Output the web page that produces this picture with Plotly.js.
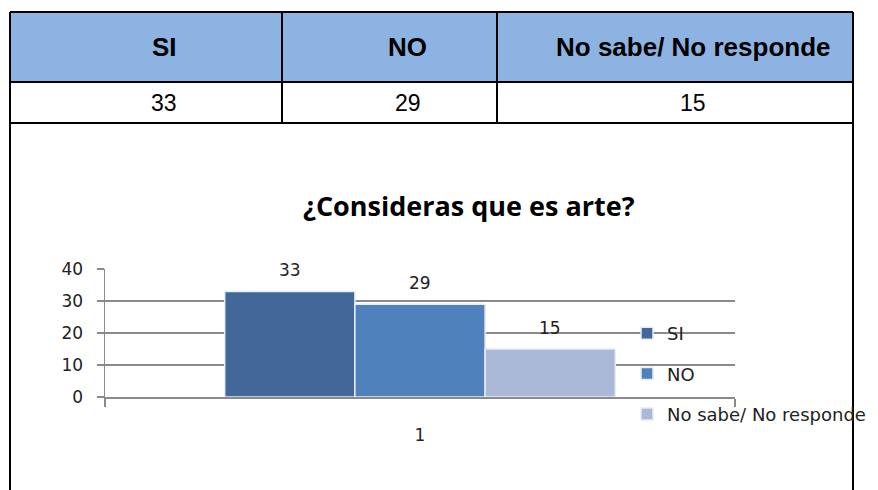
<!DOCTYPE html>
<html><head><meta charset="utf-8">
<script src="https://cdn.plot.ly/plotly-3.0.1.min.js"></script>
<style>html,body{margin:0;padding:0;background:#fff}#c{width:878px;height:490px}</style>
</head><body><div id="c"></div>
<script>
var categories = ['SI', 'NO', 'No sabe/ No responde'];
var values = [33, 29, 15];
var xLabel = ['1'];
var barColors = ['#416899', '#4F81BD', '#AAB9D6'];
var chartTitle = '¿Consideras que es arte?';
var yTicks = [0, 10, 20, 30, 40];

var W = 878, H = 490;
function px(x){return x/W;}
function py(y){return 1 - y/H;}

// table geometry (pixels)
var colEdges = [10, 282, 497, 853];
var textOffset = 18;
var tTop = 12, tMid = 82, tBot = 123;
var shapes = [], annotations = [];
var border = {color: '#000', width: 2};
categories.forEach(function(c, i){
  shapes.push({type: 'rect', xref: 'paper', yref: 'paper', layer: 'below',
    x0: px(colEdges[i]), x1: px(colEdges[i+1]), y0: py(tMid), y1: py(tTop),
    fillcolor: '#8DB3E2', line: {width: 0}});
  var cx = px((colEdges[i] + colEdges[i+1]) / 2 + textOffset);
  annotations.push({text: '<b>' + c + '</b>', xref: 'paper', yref: 'paper', x: cx, y: py((tTop + tMid) / 2),
    xanchor: 'center', yanchor: 'middle', showarrow: false,
    font: {family: 'Liberation Sans, Arial', size: 26, color: '#000'}});
  annotations.push({text: String(values[i]), xref: 'paper', yref: 'paper', x: cx, y: py((tMid + tBot) / 2 + 1),
    xanchor: 'center', yanchor: 'middle', showarrow: false,
    font: {family: 'Liberation Sans, Arial', size: 23, color: '#000'}});
});
[tTop, tMid, tBot].forEach(function(y){
  shapes.push({type: 'line', xref: 'paper', yref: 'paper', x0: px(colEdges[0]), x1: px(colEdges[3]), y0: py(y), y1: py(y), line: border});
});
colEdges.forEach(function(x, k){
  var bottom = (k === 0 || k === 3) ? 0 : py(tBot);
  shapes.push({type: 'line', xref: 'paper', yref: 'paper', x0: px(x), x1: px(x), y0: bottom, y1: py(tTop), line: border});
});

var bargap = 0.38;
var barW = (1 - bargap) / categories.length;
var traces = [];
categories.forEach(function(c, i){
  traces.push({
    type: 'bar', x: xLabel, y: [values[i]], name: c,
    legendgroup: 'g' + i,
    marker: {color: barColors[i], line: {color: '#E8ECF3', width: 1.5}},
    hoverinfo: 'none'
  });
  annotations.push({
    text: String(values[i]), xref: 'x', yref: 'y',
    x: (i - (categories.length - 1) / 2) * barW, y: values[i],
    xanchor: 'center', yanchor: 'bottom', yshift: 9, showarrow: false,
    font: {family: 'DejaVu Sans', size: 17, color: '#222'}
  });
});

annotations.push({
  text: '<b>' + chartTitle + '</b>', xref: 'paper', yref: 'paper',
  x: px(469), y: py(206), xanchor: 'center', yanchor: 'middle', showarrow: false,
  font: {family: 'Open Sans', size: 27, color: '#000'}
});

var layout = {
  width: W, height: H,
  margin: {l: 0, r: 0, t: 0, b: 0},
  paper_bgcolor: '#fff', plot_bgcolor: 'rgba(0,0,0,0)',
  showlegend: true,
  barmode: 'group', bargap: bargap, bargroupgap: 0,
  font: {family: 'DejaVu Sans', size: 17, color: '#222'},
  xaxis: {
    domain: [px(105), px(735)], type: 'category',
    showline: true, linecolor: '#8a8a8a', linewidth: 1.5,
    ticks: 'outside', tickson: 'boundaries', ticklen: 8, tickcolor: '#8a8a8a', tickwidth: 1.5,
    showgrid: false, zeroline: false, ticklabelstandoff: 22,
    tickfont: {family: 'DejaVu Sans', size: 17, color: '#222'},
    fixedrange: true
  },
  yaxis: {
    domain: [py(397), py(269)], range: [0, 40], tickvals: yTicks,
    showline: true, linecolor: '#8a8a8a', linewidth: 1.5,
    ticks: 'outside', ticklen: 7, tickcolor: '#8a8a8a', tickwidth: 1.5,
    showgrid: true, gridcolor: '#8a8a8a', gridwidth: 1.5, zeroline: false,
    ticklabelstandoff: 10,
    tickfont: {family: 'DejaVu Sans', size: 17, color: '#222'},
    fixedrange: true
  },
  legend: {
    x: px(627), y: py(315), xanchor: 'left', yanchor: 'top',
    bgcolor: 'rgba(0,0,0,0)', traceorder: 'grouped', tracegroupgap: 14,
    font: {family: 'DejaVu Sans', size: 18, color: '#222'}
  },
  annotations: annotations,
  shapes: shapes
};
Plotly.newPlot('c', traces, layout, {displayModeBar: false, staticPlot: true});
</script></body></html>
